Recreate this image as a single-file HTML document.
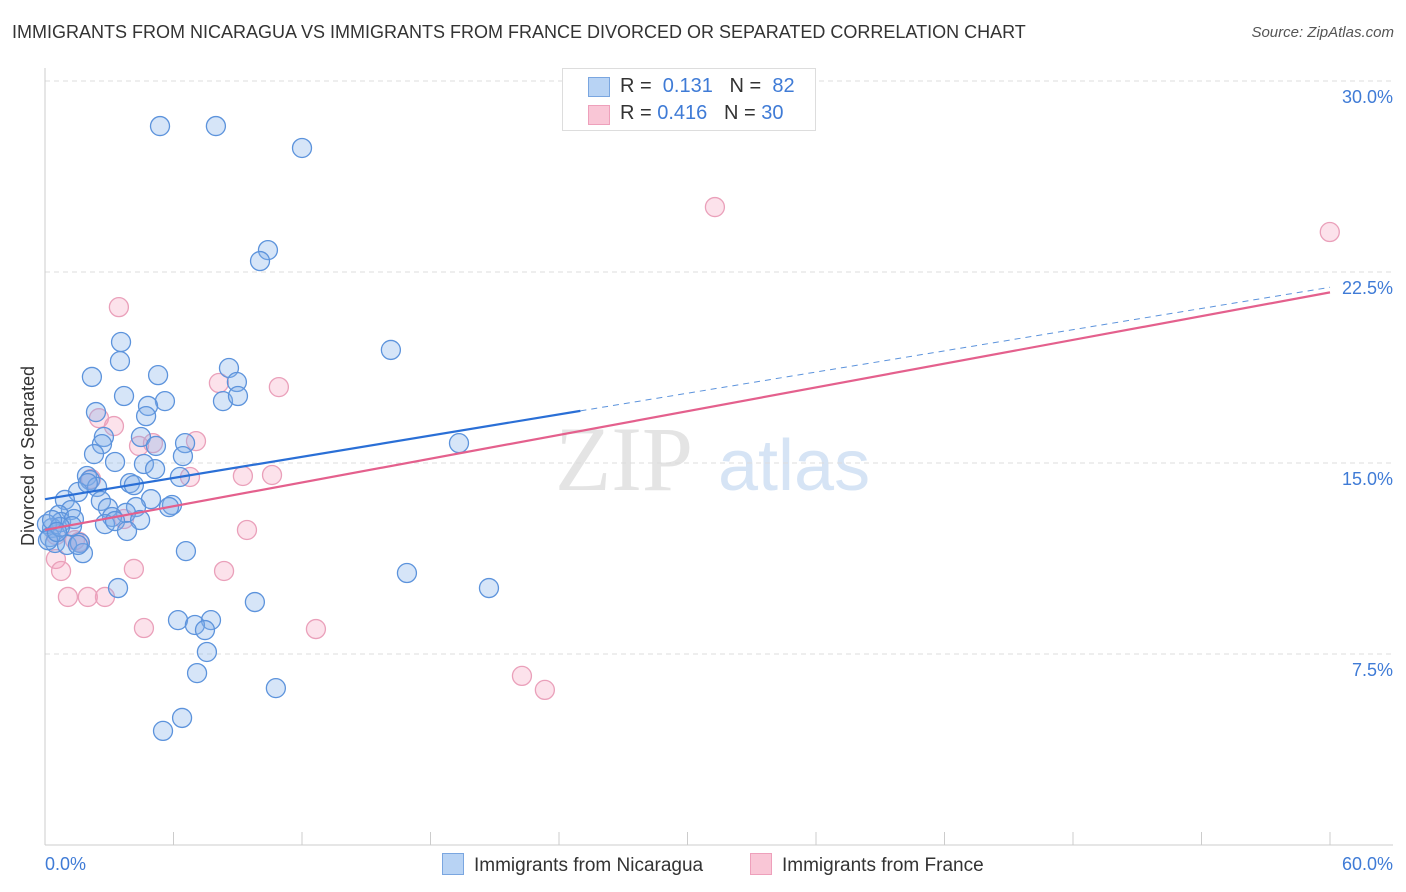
<!DOCTYPE html>
<html><head><meta charset="utf-8"><style>
body{margin:0;background:#fff;font-family:"Liberation Sans",sans-serif;}
#wrap{position:relative;width:1406px;height:892px;overflow:hidden;}
.t{position:absolute;white-space:nowrap;}
</style></head><body>
<div id="wrap">
<div class="t" style="left:12px;top:22px;font-size:18px;color:#333;">IMMIGRANTS FROM NICARAGUA VS IMMIGRANTS FROM FRANCE DIVORCED OR SEPARATED CORRELATION CHART</div>
<div class="t" style="right:12px;top:24px;font-size:15px;color:#555;font-style:italic;">Source: ZipAtlas.com</div>
<svg id="svg" width="1406" height="892" style="position:absolute;left:0;top:0"></svg>
</div>
<script>
const xTicks=[0,60];
const yTicks=[7.5,15,22.5,30];
const blueX=[5.37,7.98,12.0,10.41,10.04,16.15,3.55,3.5,2.19,5.28,8.59,8.96,3.69,5.6,8.31,9.01,4.81,2.38,4.72,2.75,4.48,5.18,2.66,6.54,6.44,2.29,3.27,4.62,5.14,6.3,1.96,2.1,2.43,3.97,4.15,1.54,0.93,2.61,4.95,5.93,5.79,1.21,4.25,2.94,0.65,0.75,1.35,3.78,3.13,4.44,2.8,3.27,0.33,1.26,3.83,0.09,0.23,0.47,1.03,1.63,1.77,6.58,0.14,19.33,16.9,20.73,9.8,3.41,6.21,7.75,7.0,7.47,7.56,7.1,10.78,6.4,5.51,1.54,0.7,2.0,0.33,0.56];
const blueY=[28.23,28.23,27.37,23.36,22.93,19.44,19.75,19.0,18.38,18.45,18.73,18.18,17.63,17.43,17.43,17.63,17.24,17.0,16.84,16.02,16.02,15.67,15.74,15.78,15.27,15.35,15.04,14.96,14.76,14.45,14.49,14.33,14.06,14.21,14.13,13.86,13.55,13.51,13.58,13.35,13.27,13.15,13.27,13.23,12.96,12.68,12.8,13.04,12.88,12.76,12.6,12.72,12.45,12.52,12.33,12.6,12.09,11.86,11.78,11.86,11.46,11.54,11.97,15.78,10.68,10.09,9.54,10.09,8.83,8.83,8.64,8.44,7.58,6.75,6.16,4.99,4.48,11.78,12.49,14.21,12.76,12.29];
const pinkX=[31.28,59.99,3.45,8.12,10.92,2.52,3.22,7.05,4.39,5.04,6.77,9.24,10.6,2.15,3.69,9.43,0.51,1.4,1.59,0.51,0.75,4.15,8.36,1.07,2.0,2.8,4.62,12.65,22.27,23.34];
const pinkY=[25.05,24.07,21.12,18.14,17.98,16.76,16.45,15.86,15.67,15.78,14.45,14.49,14.53,14.37,12.8,12.37,12.17,11.97,11.9,11.23,10.76,10.84,10.76,9.74,9.74,9.74,8.52,8.48,6.64,6.09];
const blueTrend=[13.58,21.9];
const pinkTrend=[12.37,21.7];
const blueSolidEnd=25;

const X0=45,X1=1330,Y0=845,YTOP=81;
const sx=v=>X0+(v/60)*(X1-X0);
const sy=v=>Y0-(v/30)*(Y0-YTOP);
const svg=document.getElementById('svg');
const NS='http://www.w3.org/2000/svg';
function mk(tag,attrs,parent){const e=document.createElementNS(NS,tag);for(const k in attrs)e.setAttribute(k,attrs[k]);(parent||svg).appendChild(e);return e;}

// watermark
let wm=mk('text',{x:555,y:490,'font-size':92,'font-family':'Liberation Serif, serif',fill:'#e4e4e4'});
wm.textContent='ZIP';


let wm2=mk('text',{x:718,y:490,'font-size':72,'font-family':'Liberation Sans, sans-serif',fill:'#d6e4f5'});
wm2.textContent='atlas';



// grid
yTicks.forEach(v=>{
  const l=mk('line',{x1:X0,x2:1393,y1:sy(v),y2:sy(v),stroke:'#ddd','stroke-dasharray':'5,4'});
  
  
  const t=mk('text',{x:1393,y:sy(v)+22,'text-anchor':'end','font-size':18,fill:'#3f7bd6'});
  t.textContent=v.toFixed(1)+'%';
  
  
});
// axes
let ax=mk('line',{x1:X0,x2:X0,y1:68,y2:Y0,stroke:'#ccc'});


let bx=mk('line',{x1:X0,x2:1393,y1:Y0,y2:Y0,stroke:'#ccc'});


for(let i=0;i<=10;i++){
  const tk=mk('line',{x1:sx(i*6),x2:sx(i*6),y1:Y0-13,y2:Y0,stroke:'#ccc'});
  
  
}
xTicks.forEach((v,i)=>{
  const t=mk('text',{x:i==0?45:1393,y:870,'text-anchor':i==0?'start':'end','font-size':18,fill:'#3f7bd6'});
  t.textContent=v.toFixed(1)+'%';
  
  
});
let yt=mk('text',{x:0,y:0,'font-size':18,fill:'#333','text-anchor':'middle',transform:'translate(34,456) rotate(-90)'});
yt.textContent='Divorced or Separated';



// points
pinkX.forEach((x,i)=>{
  const c=mk('circle',{cx:sx(x),cy:sy(pinkY[i]),r:9.5,fill:'rgba(244,160,190,0.3)',stroke:'#eaa0ba','stroke-width':1.3});
  
  
});
blueX.forEach((x,i)=>{
  const c=mk('circle',{cx:sx(x),cy:sy(blueY[i]),r:9.5,fill:'rgba(130,175,235,0.33)',stroke:'#5c93dc','stroke-width':1.3});
  
  
});
// trends
const bAt=v=>blueTrend[0]+(blueTrend[1]-blueTrend[0])*v/60;
let t1=mk('line',{x1:sx(0),y1:sy(bAt(0)),x2:sx(blueSolidEnd),y2:sy(bAt(blueSolidEnd)),stroke:'#2a6fd6','stroke-width':2.2});


let t2=mk('line',{x1:sx(blueSolidEnd),y1:sy(bAt(blueSolidEnd)),x2:sx(60),y2:sy(bAt(60)),stroke:'#5c93dc','stroke-width':1,'stroke-dasharray':'6,5'});


let t3=mk('line',{x1:sx(0),y1:sy(pinkTrend[0]),x2:sx(60),y2:sy(pinkTrend[1]),stroke:'#e4608d','stroke-width':2.2});


</script>
<div style="position:absolute;left:562px;top:68px;width:252px;height:61px;border:1px solid #ddd;background:#fff;font-size:20px;color:#333;">
 <div style="position:absolute;left:25px;top:8px;width:20px;height:18px;background:#b8d3f4;border:1px solid #7aa6e0"></div>
 <div class="t" style="left:57px;top:6px">R = &nbsp;<span style="color:#3f7bd6">0.131</span>&nbsp;&nbsp; N = &nbsp;<span style="color:#3f7bd6">82</span></div>
 <div style="position:absolute;left:25px;top:36px;width:20px;height:18px;background:#f9c6d6;border:1px solid #eea0bb"></div>
 <div class="t" style="left:57px;top:33px">R = <span style="color:#3f7bd6">0.416</span>&nbsp;&nbsp; N = <span style="color:#3f7bd6">30</span></div>
</div>
<div style="position:absolute;left:442px;top:853px;font-size:19px;color:#333;">
 <span style="display:inline-block;width:20px;height:20px;background:#b8d3f4;border:1px solid #7aa6e0;vertical-align:-4px;margin-right:10px"></span>Immigrants from Nicaragua</div>
<div style="position:absolute;left:750px;top:853px;font-size:19px;color:#333;">
 <span style="display:inline-block;width:20px;height:20px;background:#f9c6d6;border:1px solid #eea0bb;vertical-align:-4px;margin-right:10px"></span>Immigrants from France</div>
</body></html>
